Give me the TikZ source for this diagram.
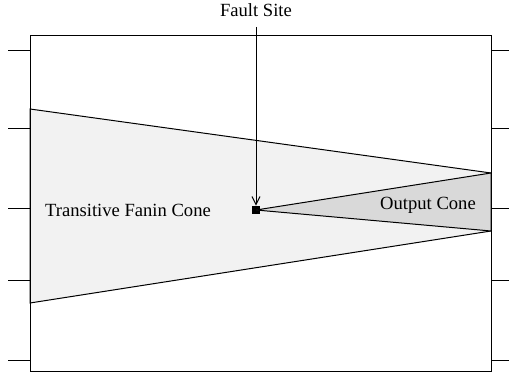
\documentclass[tikz,border=0pt]{standalone}
\usepackage{fontspec}
\setmainfont{Liberation Serif}
\usepackage{tikz}
\usetikzlibrary{positioning, calc, arrows.meta}
\colorlet{fanin color}{black!5}
\colorlet{output color}{black!15}
\tikzset{wire/.style={line width=0.5pt}}
\tikzset{cone/.style={draw, line width=0.5pt}}
\tikzset{label/.style={font=\fontsize{9.3}{11}\selectfont, inner sep=0pt}}

\begin{document}
\begin{tikzpicture}[x=0.5pt, y=-0.5pt]
                \useasboundingbox (0, 0) rectangle (509, 379);
                \fill[white] (0, 0) rectangle (509, 379);
                % inputs and outputs
                \foreach \y in {51, 129, 209, 281, 361} {
                    \draw[wire] (8, \y) -- (30, \y);
                    \draw[wire] (491, \y) -- (509, \y);
                }
                \draw[cone, fill=fanin color] (30, 109) -- (491, 173) -- (491, 231) -- (30, 303) -- cycle;
                \node[fill=black, minimum size=4pt, inner sep=0pt] (fault) at (256, 210) {};
                \draw[cone, fill=output color] (fault.center) -- (491, 173) -- (491, 231) -- cycle;
                \draw[wire] (30, 36) rectangle (491, 372);
                \node[label] (fanin) at (128, 210) {Transitive Fanin Cone};
                \node[label] (output) at (428, 205) {Output Cone};
                \node[label] (site) at (256, 10) {Fault Site};
                \draw[wire, -{Straight Barb[length=4pt, width=4pt]}] ([yshift=-5pt]site.south) -- (fault.north);
            \end{tikzpicture}
\end{document}
